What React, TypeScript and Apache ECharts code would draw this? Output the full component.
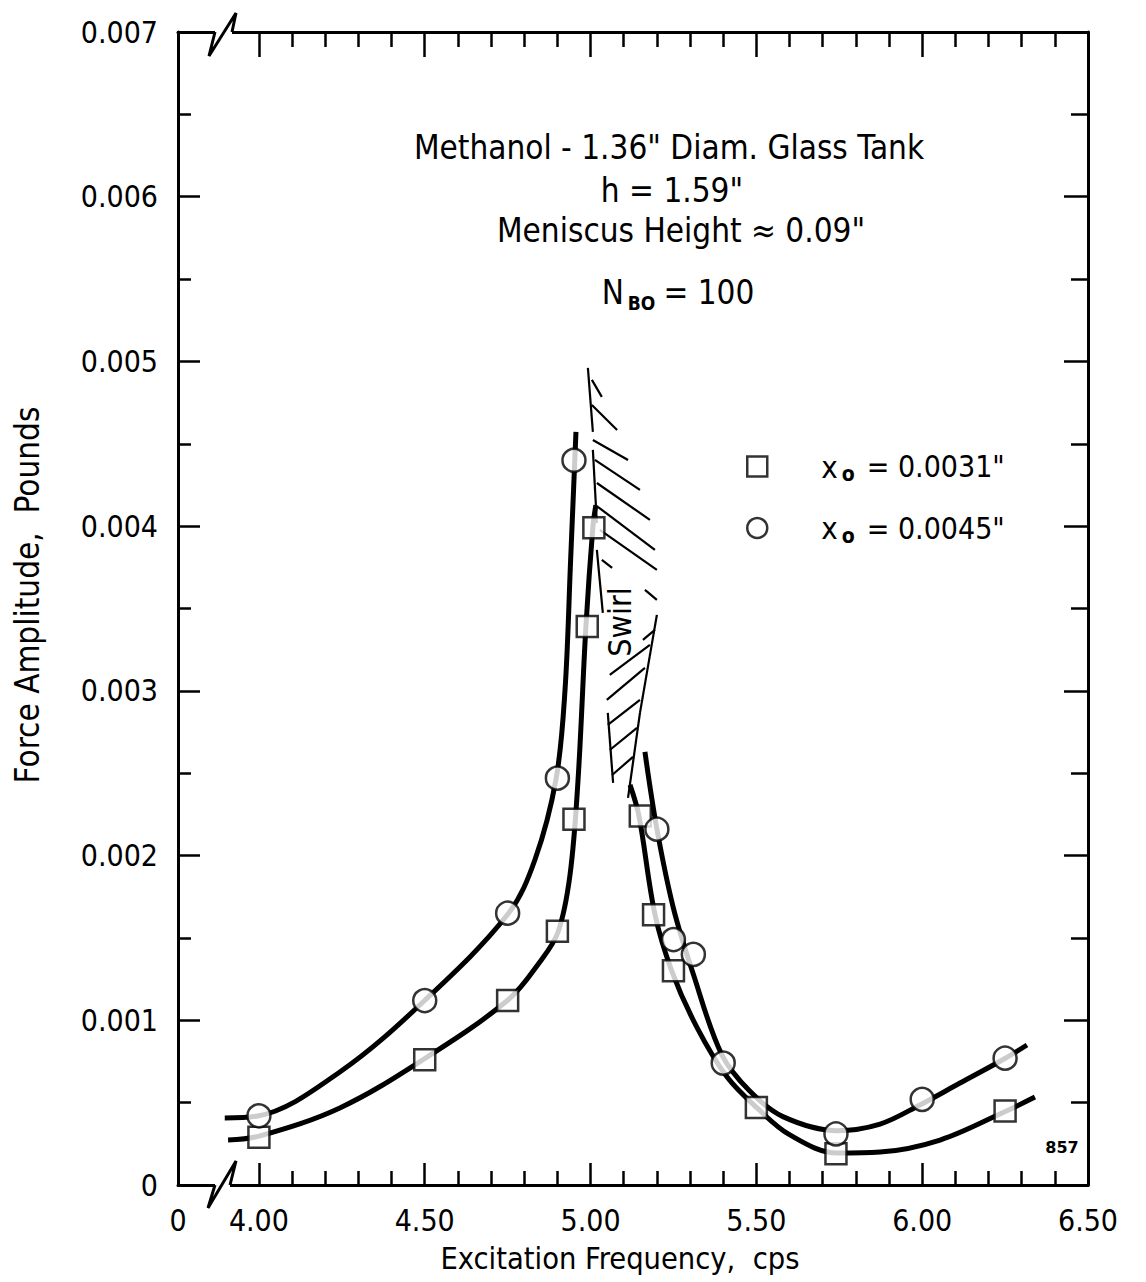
import React, { useEffect, useRef } from "react";
import * as echarts from "echarts";

const FONT = "'DejaVu Sans Condensed', 'DejaVu Sans', sans-serif";

// ---- axes ----
const X_MIN = 3.756;
const X_MAX = 6.5;
const Y_MIN = 0;
const Y_MAX = 0.007;
const xLabelValues = [X_MIN, 4.0, 4.5, 5.0, 5.5, 6.0, 6.5];
const xMajorTicks = [4.0, 4.5, 5.0, 5.5, 6.0];
const xMinorTicks = [4.1, 4.2, 4.3, 4.4, 4.6, 4.7, 4.8, 4.9, 5.1, 5.2, 5.3, 5.4, 5.6, 5.7, 5.8, 5.9, 6.1, 6.2, 6.3, 6.4];
const yLabelValues = [0, 0.001, 0.002, 0.003, 0.004, 0.005, 0.006, 0.007];
const yMajorTicks = [0.001, 0.002, 0.003, 0.004, 0.005, 0.006];
const yMinorTicks = [0.0005, 0.0015, 0.0025, 0.0035, 0.0045, 0.0055, 0.0065];

// ---- measured points ----
const squareName = 'x0 = 0.0031"';
const circleName = 'x0 = 0.0045"';
const squareFreq = [4.0, 4.5, 4.75, 4.9, 4.95, 4.99, 5.01, 5.15, 5.19, 5.25, 5.5, 5.74, 6.25];
const squareForce = [0.00029, 0.00076, 0.00112, 0.00154, 0.00222, 0.00339, 0.00399, 0.00224, 0.00164, 0.0013, 0.00047, 0.00019, 0.00045];
const circleFreq = [4.0, 4.5, 4.75, 4.9, 4.95, 5.2, 5.25, 5.31, 5.4, 5.74, 6.0, 6.25];
const circleForce = [0.00042, 0.00112, 0.00165, 0.00247, 0.0044, 0.00216, 0.00149, 0.0014, 0.00074, 0.00031, 0.00052, 0.00077];

// ---- faired curves ----
const squareFitLowFreq = [3.907, 4.003, 4.244, 4.498, 4.751, 4.847, 4.902, 4.938, 4.962, 4.986, 5.007, 5.016];
const squareFitLowForce = [0.000273, 0.000298, 0.000468, 0.000765, 0.001123, 0.001354, 0.001536, 0.001882, 0.00245, 0.00339, 0.003995, 0.004128];
const circleFitLowFreq = [3.897, 3.997, 4.244, 4.498, 4.751, 4.832, 4.896, 4.923, 4.94, 4.956];
const circleFitLowForce = [0.000407, 0.000419, 0.000686, 0.001117, 0.001645, 0.001973, 0.002465, 0.003005, 0.0038, 0.004572];
const squareFitHighFreq = [5.119, 5.146, 5.194, 5.245, 5.32, 5.41, 5.502, 5.601, 5.743, 5.873, 6.054, 6.247, 6.34];
const squareFitHighForce = [0.002429, 0.00224, 0.001645, 0.001299, 0.00096, 0.00066, 0.000468, 0.000304, 0.000194, 0.0002, 0.000273, 0.000443, 0.000534];
const circleFitHighFreq = [5.164, 5.2, 5.25, 5.31, 5.396, 5.48, 5.58, 5.743, 5.873, 5.993, 6.114, 6.247, 6.316];
const circleFitHighForce = [0.002629, 0.002162, 0.00168, 0.00128, 0.00079, 0.00057, 0.000415, 0.00033, 0.00037, 0.000486, 0.000619, 0.000765, 0.00085];

// ---- swirl region boundary and hatching: [f1, F1, f2, F2] ----
const swirlSegments = [
  [4.992, 0.004961, 5.007, 0.004572],
  [5.007, 0.004463, 5.019, 0.004019],
  [5.019, 0.003856, 5.037, 0.003473],
  [5.052, 0.002866, 5.068, 0.002441],
  [5.2, 0.003461, 5.149, 0.002866],
  [5.149, 0.002866, 5.113, 0.00235],
  [5.004, 0.004888, 5.034, 0.004785],
  [5.004, 0.004736, 5.08, 0.004584],
  [5.007, 0.004523, 5.113, 0.004402],
  [5.013, 0.004402, 5.149, 0.00422],
  [5.019, 0.004262, 5.179, 0.004038],
  [5.022, 0.004117, 5.194, 0.003856],
  [5.028, 0.003977, 5.2, 0.003734],
  [5.034, 0.003795, 5.065, 0.003746],
  [5.164, 0.003613, 5.2, 0.003552],
  [5.158, 0.003309, 5.194, 0.00337],
  [5.058, 0.003097, 5.179, 0.003279],
  [5.049, 0.002945, 5.164, 0.003139],
  [5.052, 0.002793, 5.149, 0.002945],
  [5.058, 0.002641, 5.14, 0.002775],
  [5.065, 0.002489, 5.128, 0.002599],
];

const zip = (a: number[], b: number[]) => a.map((v, i) => [v, b[i]]);

const black = "#000";

function fitSeries(fx: number[], fy: number[]) {
  return {
    type: "line",
    data: zip(fx, fy),
    smooth: 0.35,
    showSymbol: false,
    symbol: "none",
    lineStyle: { color: black, width: 5 },
    z: 2,
    silent: true,
  };
}

function xAxisDef(position: string, ticks: number[], len: number, showLine: boolean, labels: boolean) {
  return {
    type: "value",
    position,
    min: X_MIN,
    max: X_MAX,
    splitLine: { show: false },
    axisLine: { show: showLine, onZero: false, lineStyle: { color: black, width: 3 } },
    axisTick: { show: true, inside: true, length: len, customValues: ticks, lineStyle: { color: black, width: 2.5 } },
    axisLabel: labels
      ? {
          show: true,
          customValues: xLabelValues,
          showMinLabel: true,
          showMaxLabel: true,
          margin: 20,
          color: black,
          fontFamily: FONT,
          fontSize: 30,
          formatter: (v: number) => (Math.abs(v - X_MIN) < 1e-6 ? "0" : v.toFixed(2)),
        }
      : { show: false },
  };
}

function yAxisDef(position: string, ticks: number[], len: number, showLine: boolean, labels: boolean) {
  return {
    type: "value",
    position,
    min: Y_MIN,
    max: Y_MAX,
    splitLine: { show: false },
    axisLine: { show: showLine, onZero: false, lineStyle: { color: black, width: 3 } },
    axisTick: { show: true, inside: true, length: len, customValues: ticks, lineStyle: { color: black, width: 2.5 } },
    axisLabel: labels
      ? {
          show: true,
          customValues: yLabelValues,
          showMinLabel: true,
          showMaxLabel: true,
          margin: 20,
          color: black,
          fontFamily: FONT,
          fontSize: 30,
          formatter: (v: number) => (v === 0 ? "0" : v.toFixed(3)),
        }
      : { show: false },
  };
}

const textStyle = (text: string, size = 33) => ({
  text,
  fontFamily: FONT,
  fontSize: size,
  fill: black,
  align: "center",
  verticalAlign: "middle",
});

export default function App() {
  const ref = useRef<HTMLDivElement>(null);
  useEffect(() => {
    document.body.style.margin = "0";
    const chart = echarts.init(ref.current!, null, { renderer: "svg" });
    const xs: any[] = [
      xAxisDef("bottom", xMajorTicks, 22, true, true),
      xAxisDef("bottom", xMinorTicks, 14, false, false),
      xAxisDef("top", xMajorTicks, 25, true, false),
      xAxisDef("top", xMinorTicks, 15, false, false),
    ];
    const ys: any[] = [
      yAxisDef("left", yMajorTicks, 22, true, true),
      yAxisDef("left", yMinorTicks, 13, false, false),
      yAxisDef("right", yMajorTicks, 24, true, false),
      yAxisDef("right", yMinorTicks, 17, false, false),
    ];
    const option: any = {
      animation: false,
      backgroundColor: "#fff",
      grid: { left: 178, right: 58, top: 32, bottom: 97, containLabel: false },
      xAxis: xs,
      yAxis: ys,
      legend: {
        orient: "vertical",
        left: 741,
        top: 446,
        itemWidth: 20,
        itemHeight: 20,
        itemGap: 28,
        data: [
          { name: squareName, icon: "rect" },
          { name: circleName, icon: "circle" },
        ],
        itemStyle: { color: "#fff", borderColor: black, borderWidth: 2.5 },
        formatter: (name: string) => {
          const val = name.split("= ")[1];
          return `{x|x}{s|o}{t|= ${val}}`;
        },
        textStyle: {
          padding: [0, 0, 0, 49],
          rich: {
            x: { fontFamily: FONT, fontSize: 31, color: black, lineHeight: 36, verticalAlign: "middle" },
            s: { fontFamily: FONT, fontSize: 21, fontWeight: "bold", color: black, lineHeight: 36, verticalAlign: "bottom", padding: [0, 12, 0, 4] },
            t: { fontFamily: FONT, fontSize: 30, color: black, lineHeight: 36, verticalAlign: "middle" },
          },
        },
      },
      series: [
        fitSeries(squareFitLowFreq, squareFitLowForce),
        fitSeries(circleFitLowFreq, circleFitLowForce),
        fitSeries(squareFitHighFreq, squareFitHighForce),
        fitSeries(circleFitHighFreq, circleFitHighForce),
        {
          type: "custom",
          silent: true,
          data: swirlSegments,
          encode: { x: [0, 2], y: [1, 3] },
          renderItem: (_p: any, api: any) => {
            const a = api.coord([api.value(0), api.value(1)]);
            const b = api.coord([api.value(2), api.value(3)]);
            return {
              type: "line",
              shape: { x1: a[0], y1: a[1], x2: b[0], y2: b[1] },
              style: { stroke: black, lineWidth: 2.2 },
            };
          },
          z: 1,
        },
        {
          name: squareName,
          type: "scatter",
          data: zip(squareFreq, squareForce),
          symbol: "rect",
          symbolSize: 21,
          itemStyle: { color: "#fff", borderColor: black, borderWidth: 2.5 },
          z: 5,
        },
        {
          name: circleName,
          type: "scatter",
          data: zip(circleFreq, circleForce),
          symbol: "circle",
          symbolSize: 23,
          itemStyle: { color: "#fff", borderColor: black, borderWidth: 2.5 },
          z: 5,
        },
      ],
      graphic: [
        { type: "text", x: 669, y: 147, style: textStyle('Methanol - 1.36" Diam. Glass Tank') },
        { type: "text", x: 672, y: 190, style: textStyle('h = 1.59"') },
        { type: "text", x: 681, y: 230, style: textStyle('Meniscus Height ≈ 0.09"') },
        {
          type: "text",
          x: 678,
          y: 292,
          style: {
            text: "{n|N}{s|BO}{n|= 100}",
            align: "center",
            verticalAlign: "middle",
            rich: {
              n: { fontFamily: FONT, fontSize: 33, color: black, lineHeight: 40, verticalAlign: "middle" },
              s: { fontFamily: FONT, fontSize: 19, fontWeight: "bold", color: black, lineHeight: 40, verticalAlign: "bottom", padding: [0, 8, 0, 4] },
            },
          },
        },
        { type: "text", x: 620, y: 622, rotation: Math.PI / 2, style: textStyle("Swirl", 32) },
        { type: "text", x: 620, y: 1258, style: textStyle("Excitation Frequency,  cps", 30.5) },
        { type: "text", x: 27, y: 595, rotation: Math.PI / 2, style: textStyle("Force Amplitude,  Pounds", 33) },
        { type: "text", x: 1062, y: 1147, style: { text: "857", fontFamily: "'DejaVu Sans', sans-serif", fontWeight: "bold", fontSize: 16, fill: black, align: "center", verticalAlign: "middle" } },
        // axis break marks
        { type: "rect", z: 100, shape: { x: 215, y: 1181, width: 15, height: 9 }, style: { fill: "#fff" } },
        { type: "polyline", z: 101, shape: { points: [[215, 1185], [208, 1208], [236, 1161], [230, 1185]] }, style: { stroke: black, lineWidth: 3, fill: null } },
        { type: "rect", z: 100, shape: { x: 215, y: 28, width: 17, height: 9 }, style: { fill: "#fff" } },
        { type: "polyline", z: 101, shape: { points: [[215, 32], [209, 56], [236, 13], [232, 32]] }, style: { stroke: black, lineWidth: 3, fill: null } },
      ],
    };
    chart.setOption(option);
    return () => chart.dispose();
  }, []);
  return <div ref={ref} style={{ width: 1146, height: 1282 }} />;
}
